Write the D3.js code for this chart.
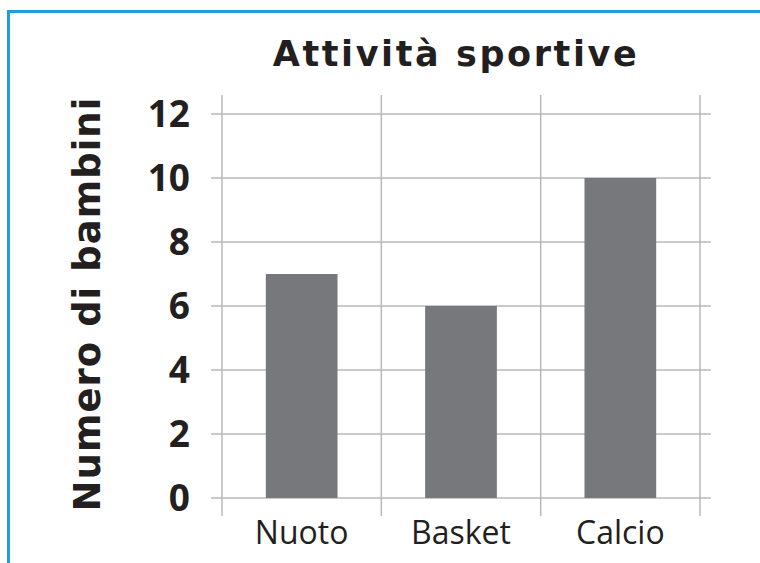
<!DOCTYPE html>
<html>
<head>
<meta charset="utf-8">
<script src="https://cdn.jsdelivr.net/npm/d3@7/dist/d3.min.js"></script>
<style>
  html, body { margin: 0; padding: 0; background: #fff; }
  svg { display: block; }
</style>
</head>
<body>
<svg id="chart" width="760" height="563"></svg>
<script>
const categories = ["Nuoto", "Basket", "Calcio"];
const values = [7, 6, 10];
const yTicks = [0, 2, 4, 6, 8, 10, 12];
const title = "Attività sportive";
const yLabel = "Numero di bambini";

const svg = d3.select("#chart");

// blue frame (top and left edges)
svg.append("path")
  .attr("d", "M8.5,570 L8.5,11.5 L770,11.5")
  .attr("fill", "none")
  .attr("stroke", "#1f9fdc")
  .attr("stroke-width", 3);

const plotLeft = 222, plotRight = 700, plotTop = 114, plotBottom = 498;
const x = d3.scaleBand().domain(categories).range([plotLeft, plotRight]).paddingInner(0.55).paddingOuter(0.275);
const y = d3.scaleLinear().domain([0, 12]).range([plotBottom, plotTop]);

const gridColor = "#b8b8b8";
// horizontal grid
svg.append("g").selectAll("line").data(yTicks).join("line")
  .attr("x1", plotLeft - 11).attr("x2", plotRight + 11)
  .attr("y1", d => y(d)).attr("y2", d => y(d))
  .attr("stroke", gridColor).attr("stroke-width", 1.5);

// vertical grid at band boundaries
const step = x.step();
const bounds = d3.range(categories.length + 1).map(i => x(categories[0]) - step * x.paddingOuter() + i * step);
svg.append("g").selectAll("line").data(bounds).join("line")
  .attr("x1", d => d).attr("x2", d => d)
  .attr("y1", plotTop - 19).attr("y2", plotBottom + 18)
  .attr("stroke", gridColor).attr("stroke-width", 1.5);

// bars
svg.append("g").selectAll("rect").data(values).join("rect")
  .attr("x", (d, i) => x(categories[i]))
  .attr("width", x.bandwidth())
  .attr("y", d => y(d))
  .attr("height", d => y(0) - y(d))
  .attr("fill", "#77787b");

// y tick labels
svg.append("g").selectAll("text").data(yTicks).join("text")
  .attr("x", 190)
  .attr("y", d => y(d))
  .attr("dy", "0.36em")
  .attr("text-anchor", "end")
  .attr("font-family", "'Open Sans', sans-serif")
  .attr("font-weight", 700)
  .attr("font-size", 37)
  .attr("fill", "#231f20")
  .text(d => d);

// x labels
svg.append("g").selectAll("text").data(categories).join("text")
  .attr("x", d => x(d) + x.bandwidth() / 2)
  .attr("y", 544)
  .attr("text-anchor", "middle")
  .attr("font-family", "'Open Sans', sans-serif")
  .attr("font-weight", 400)
  .attr("font-size", 32)
  .attr("fill", "#231f20")
  .text(d => d);

// title
svg.append("text")
  .attr("x", 456)
  .attr("y", 66)
  .attr("text-anchor", "middle")
  .attr("font-family", "'DejaVu Sans', sans-serif")
  .attr("font-weight", 700)
  .attr("font-size", 35)
  .attr("letter-spacing", 2.6)
  .attr("fill", "#231f20")
  .text(title);

// y label
svg.append("text")
  .attr("transform", "translate(100,304) rotate(-90)")
  .attr("text-anchor", "middle")
  .attr("font-family", "'DejaVu Sans', sans-serif")
  .attr("font-weight", 700)
  .attr("font-size", 37)
  .attr("letter-spacing", 1)
  .attr("fill", "#231f20")
  .text(yLabel);
</script>
</body>
</html>
